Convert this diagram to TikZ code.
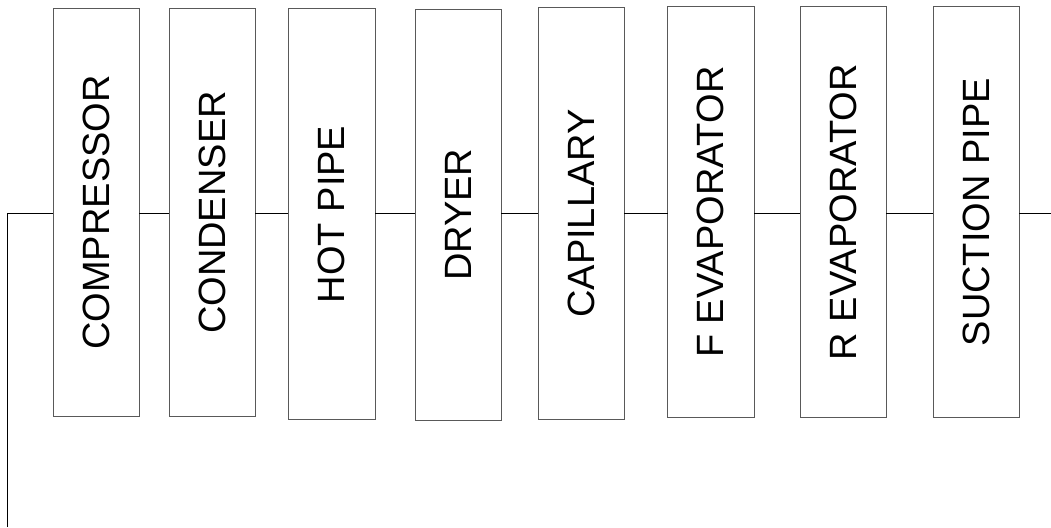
\documentclass[tikz,border=0pt]{standalone}
\usepackage{fontspec}
\setmainfont{Liberation Sans}
\begin{document}
\begin{tikzpicture}[x=1pt,y=-1pt,
  box/.style={draw=black!65,line width=1pt,fill=white,inner sep=0pt,outer sep=0pt,anchor=north west},
  lbl/.style={rotate=90,font=\fontsize{38}{40}\selectfont,inner sep=0pt},
  pipe/.style={draw=black,line width=1pt}]
\useasboundingbox (0,0) rectangle (1051,527);
\def\ly{213}
\node[box,minimum width=86pt,minimum height=407pt] (b1) at (53.3,9) {};
\node[box,minimum width=86pt,minimum height=407pt] (b2) at (169.3,9) {};
\node[box,minimum width=86.7pt,minimum height=410.7pt] (b3) at (288.3,9) {};
\node[box,minimum width=86.3pt,minimum height=411pt] (b4) at (415,9.3) {};
\node[box,minimum width=86.3pt,minimum height=411pt] (b5) at (538,8) {};
\node[box,minimum width=86.3pt,minimum height=411pt] (b6) at (667.7,6.7) {};
\node[box,minimum width=86.3pt,minimum height=411pt] (b7) at (800,6.7) {};
\node[box,minimum width=86pt,minimum height=411pt] (b8) at (933.3,6.7) {};
\node[lbl] (t1) at (b1.center) {COMPRESSOR};
\node[lbl] (t2) at (b2.center) {CONDENSER};
\node[lbl] (t3) at (b3.center) {HOT PIPE};
\node[lbl] (t4) at (b4.center) {DRYER};
\node[lbl] (t5) at (b5.center) {CAPILLARY};
\node[lbl] (t6) at (b6.center) {F EVAPORATOR};
\node[lbl] (t7) at (b7.center) {R EVAPORATOR};
\node[lbl] (t8) at (b8.center) {SUCTION PIPE};
\coordinate (s0) at (7,527);
\coordinate (s1) at (7,\ly);
\coordinate (s2) at (1051,\ly);
\draw[pipe] (s0) -- (s1) -- (b1.west |- s1);
\foreach \a/\b in {b1/b2,b2/b3,b3/b4,b4/b5,b5/b6,b6/b7,b7/b8}
  \draw[pipe] (\a.east |- s1) -- (\b.west |- s1);
\draw[pipe] (b8.east |- s1) -- (s2);
\end{tikzpicture}
\end{document}
